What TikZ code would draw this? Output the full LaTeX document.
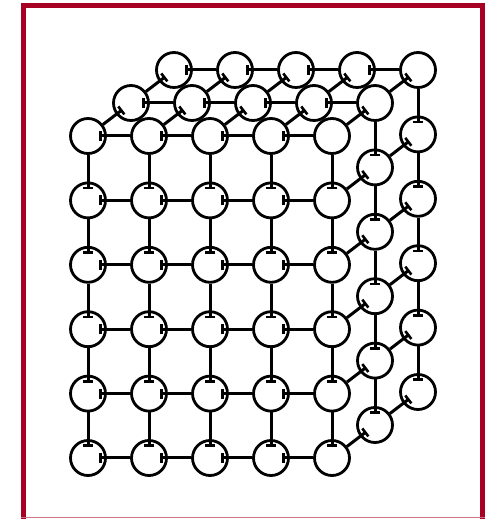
\documentclass[tikz,border=0pt]{standalone}
\usepackage{tikz}
\usetikzlibrary{arrows.meta}
\definecolor{framered}{RGB}{168, 0, 36}

\begin{document}
\begin{tikzpicture}[
    x=1pt, y=1pt,
    atom/.style={circle, draw=black, fill=white, line width=2.8pt, minimum size=35pt, inner sep=0pt},
    bond/.style={draw=black, line width=3pt, {Bar[width=10pt, line width=2.6pt]}-, shorten <=-8pt},
    frameline/.style={draw=framered, line width=5pt}
]
\useasboundingbox (0,0) rectangle (489,519);

% Frame
\draw[frameline] (23.5,0) -- (23.5,513.5) -- (482.5,513.5) -- (482.5,0);
\draw[framered!55, line width=1pt] (21,1.5) -- (485,1.5);

% Back layer (top row and right column)
\foreach \i in {0,...,4}
    \node[atom] (back-\i-5) at ({88+61*\i+86}, {61+64.4*5+66}) {};
\foreach \j in {0,...,4}
    \node[atom] (back-4-\j) at ({88+61*4+86}, {61+64.4*\j+66}) {};
\foreach \i [count=\n from 1] in {0,...,3}
    \draw[bond] (back-\i-5) -- (back-\n-5);
\foreach \j [count=\n from 1] in {0,...,4}
    \draw[bond] (back-4-\j) -- (back-4-\n);

% Middle layer (top row and right column)
\foreach \i in {0,...,4}
    \node[atom] (mid-\i-5) at ({88+61*\i+43}, {61+64.4*5+33}) {};
\foreach \j in {0,...,4}
    \node[atom] (mid-4-\j) at ({88+61*4+43}, {61+64.4*\j+33}) {};
\foreach \i [count=\n from 1] in {0,...,3}
    \draw[bond] (mid-\i-5) -- (mid-\n-5);
\foreach \j [count=\n from 1] in {0,...,4}
    \draw[bond] (mid-4-\j) -- (mid-4-\n);

% Middle to back
\foreach \i in {0,...,4}
    \draw[bond] (back-\i-5) -- (mid-\i-5);
\foreach \j in {0,...,4}
    \draw[bond] (back-4-\j) -- (mid-4-\j);

% Front face
\foreach \i in {0,...,4}
    \foreach \j in {0,...,5}
        \node[atom] (front-\i-\j) at ({88+61*\i}, {61+64.4*\j}) {};
\foreach \j in {0,...,5}
    \foreach \i [count=\n from 1] in {0,...,3}
        \draw[bond] (front-\i-\j) -- (front-\n-\j);
\foreach \i in {0,...,4}
    \foreach \j [count=\n from 1] in {0,...,4}
        \draw[bond] (front-\i-\j) -- (front-\i-\n);

% Front to middle
\foreach \i in {0,...,4}
    \draw[bond] (mid-\i-5) -- (front-\i-5);
\foreach \j in {0,...,4}
    \draw[bond] (mid-4-\j) -- (front-4-\j);

\end{tikzpicture}
\end{document}
